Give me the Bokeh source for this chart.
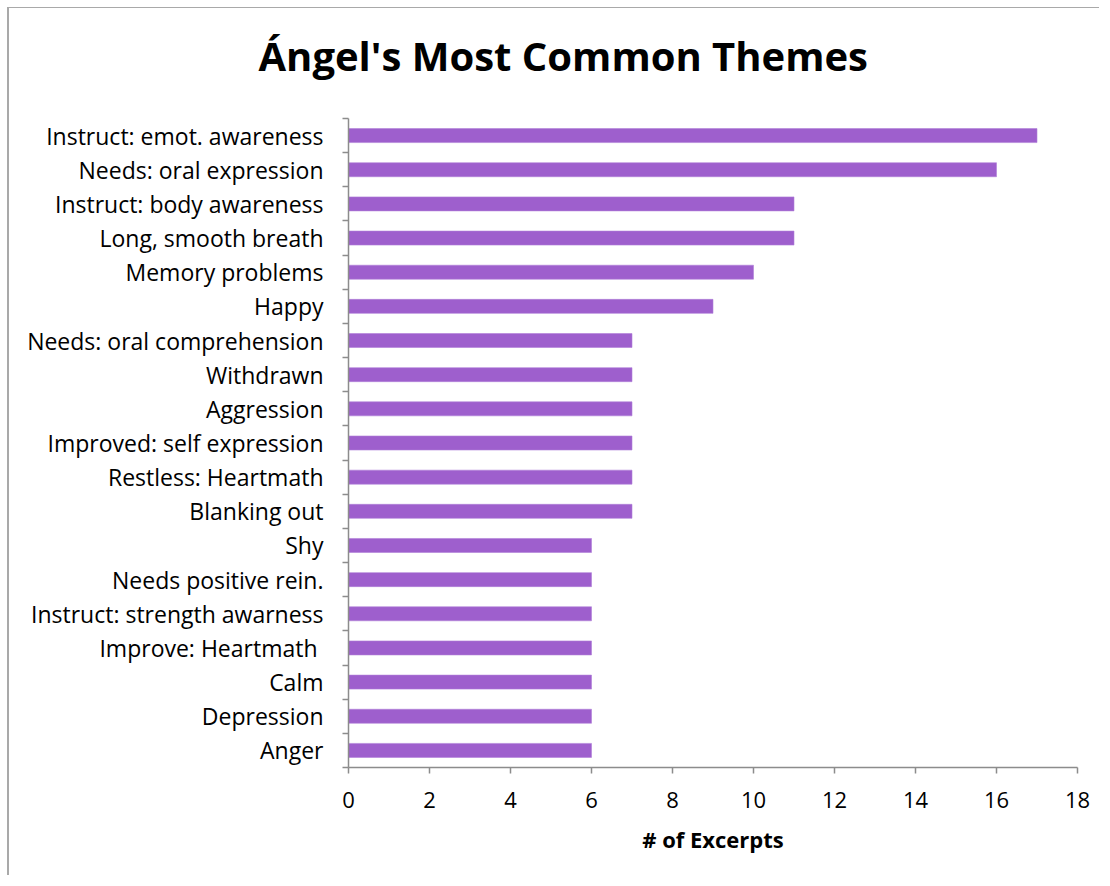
from bokeh.plotting import figure
from bokeh.models import Range1d, FixedTicker, Title, LinearAxis
from bokeh.embed import file_html
from bokeh.resources import INLINE

categories = [
    "Instruct: emot. awareness",
    "Needs: oral expression",
    "Instruct: body awareness",
    "Long, smooth breath",
    "Memory problems",
    "Happy",
    "Needs: oral comprehension",
    "Withdrawn",
    "Aggression",
    "Improved: self expression",
    "Restless: Heartmath",
    "Blanking out",
    "Shy",
    "Needs positive rein.",
    "Instruct: strength awarness",
    "Improve: Heartmath ",
    "Calm",
    "Depression",
    "Anger",
]
excerpts = [17, 16, 11, 11, 10, 9, 7, 7, 7, 7, 7, 7, 6, 6, 6, 6, 6, 6, 6]
x_ticks = [0, 2, 4, 6, 8, 10, 12, 14, 16, 18]
title_text = "Ángel's Most Common Themes"
x_label = "# of Excerpts"

n = len(categories)
ypos = [n - i - 0.5 for i in range(n)]

FONT = "Open Sans"
AXIS_COLOR = "#8c8c8c"
BAR_COLOR = "#9e5fcd"

p = figure(
    width=1092, height=868,
    x_range=Range1d(0, 18), y_range=Range1d(0, n),
    output_backend="svg", toolbar_location=None,
    x_axis_location=None, y_axis_location=None,
    min_border_left=339, min_border_right=24,
    min_border_top=110, min_border_bottom=109,
)
p.title = None
p.styles = {"border-left": "2px solid #a9a9a9", "border-top": "1px solid #a9a9a9",
            "margin-left": "7px", "margin-top": "7px"}
p.outline_line_color = None
p.xgrid.visible = False
p.ygrid.visible = False

p.hbar(y=ypos, right=excerpts, left=0, height=0.41, fill_color=BAR_COLOR,
       line_color="#b07fd8", line_width=0.6)

xaxis = LinearAxis(ticker=FixedTicker(ticks=x_ticks, minor_ticks=[]))
xaxis.axis_label = x_label
xaxis.axis_label_text_font = FONT
xaxis.axis_label_text_font_style = "bold"
xaxis.axis_label_text_font_size = "22px"
xaxis.axis_label_text_color = "black"
xaxis.axis_label_standoff = 13
xaxis.major_label_text_font = FONT
xaxis.major_label_text_font_size = "22px"
xaxis.major_label_text_color = "black"
xaxis.major_label_standoff = 18
xaxis.axis_line_color = AXIS_COLOR
xaxis.axis_line_width = 1.5
xaxis.major_tick_line_color = AXIS_COLOR
xaxis.major_tick_line_width = 1.5
xaxis.major_tick_in = 0
xaxis.major_tick_out = 6
xaxis.minor_tick_line_color = None
p.add_layout(xaxis, "below")

yaxis = LinearAxis(ticker=FixedTicker(ticks=ypos, minor_ticks=list(range(n + 1))))
yaxis.major_label_overrides = {y: c for y, c in zip(ypos, categories)}
yaxis.major_label_text_font = FONT
yaxis.major_label_text_font_size = "23px"
yaxis.major_label_text_color = "black"
yaxis.major_label_standoff = 19
yaxis.axis_line_color = AXIS_COLOR
yaxis.axis_line_width = 1.5
yaxis.major_tick_line_color = None
yaxis.major_tick_in = 0
yaxis.major_tick_out = 0
yaxis.minor_tick_line_color = AXIS_COLOR
yaxis.minor_tick_line_width = 1.5
yaxis.minor_tick_in = 0
yaxis.minor_tick_out = 6
p.add_layout(yaxis, "left")

# blank spacer panel between the title and the plot area
spacer = Title(text=" ", text_font=FONT, text_font_size="12px", standoff=17,
               text_color="white")
p.add_layout(spacer, "above")

t = Title(text=title_text, align="left", offset=-90, text_font=FONT,
          text_font_style="bold", text_font_size="40px", text_color="black",
          standoff=0)
p.add_layout(t, "above")

open("out.html", "w").write(file_html(p, INLINE))
